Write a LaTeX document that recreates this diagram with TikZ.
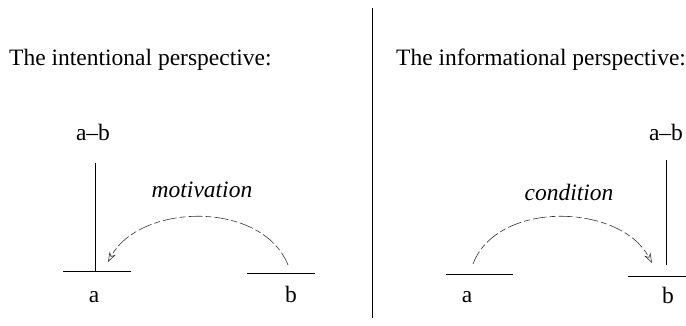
\documentclass[tikz,border=0pt]{standalone}
\usepackage{fontspec}
\setmainfont{Liberation Serif}
\usetikzlibrary{arrows.meta}
\tikzset{
  txt/.style={inner sep=0pt, font=\fontsize{23.5}{28}\selectfont, anchor=base},
  lab/.style={txt, font=\fontsize{23.5}{28}\itshape\selectfont},
  rule/.style={line width=0.8pt, black},
  rel/.style={line width=0.6pt, black!80, dash pattern=on 14pt off 3pt on 6pt off 3pt,
    -{Stealth[open, length=10pt, width=7pt, line width=0.6pt]}},
}
\begin{document}
\begin{tikzpicture}[x=1pt, y=-1pt]
\useasboundingbox (0,0) rectangle (686,325);
% divider
\coordinate (dtop) at (372,8);
\coordinate (dbot) at (372,318);
\draw[line width=0.8pt] (dtop) -- (dbot);

% ---------- left: intentional ----------
\node[txt, anchor=base west] (h1) at (9,65) {The intentional perspective:};
\node[txt] (lab1) at (93,140) {a–b};
\node[txt] (la) at (94,302) {a};
\node[txt] (lb) at (291,302) {b};
\coordinate (lvt) at (95,163);
\coordinate (lvb) at (95,271);
\draw[rule] (lvt) -- (lvb);
\coordinate (las) at (63,271);
\coordinate (lae) at (131,271);
\draw[rule] (las) -- (lae);
\coordinate (lbs) at (247,273);
\coordinate (lbe) at (315,273);
\draw[rule] (lbs) -- (lbe);
\node[lab] (mot) at (202,197) {motivation};
\coordinate (m1) at (288,265);
\coordinate (m2) at (108,262);
\draw[rel] (m1) .. controls (262,200) and (140,203) .. (m2);

% ---------- right: informational ----------
\node[txt, anchor=base west] (h2) at (396,65) {The informational perspective:};
\node[txt] (lab2) at (666,140) {a–b};
\node[txt] (ra) at (467,302) {a};
\node[txt] (rb) at (668,303) {b};
\coordinate (rvt) at (666,160);
\coordinate (rvb) at (666,265);
\draw[rule] (rvt) -- (rvb);
\coordinate (ras) at (446,274);
\coordinate (rae) at (513,274);
\draw[rule] (ras) -- (rae);
\coordinate (rbs) at (628,276);
\coordinate (rbe) at (686,276);
\draw[rule] (rbs) -- (rbe);
\node[lab] (cond) at (569,200) {condition};
\coordinate (c1) at (473,264);
\coordinate (c2) at (652,263);
\draw[rel] (c1) .. controls (497,200) and (620,203) .. (c2);
\end{tikzpicture}
\end{document}
